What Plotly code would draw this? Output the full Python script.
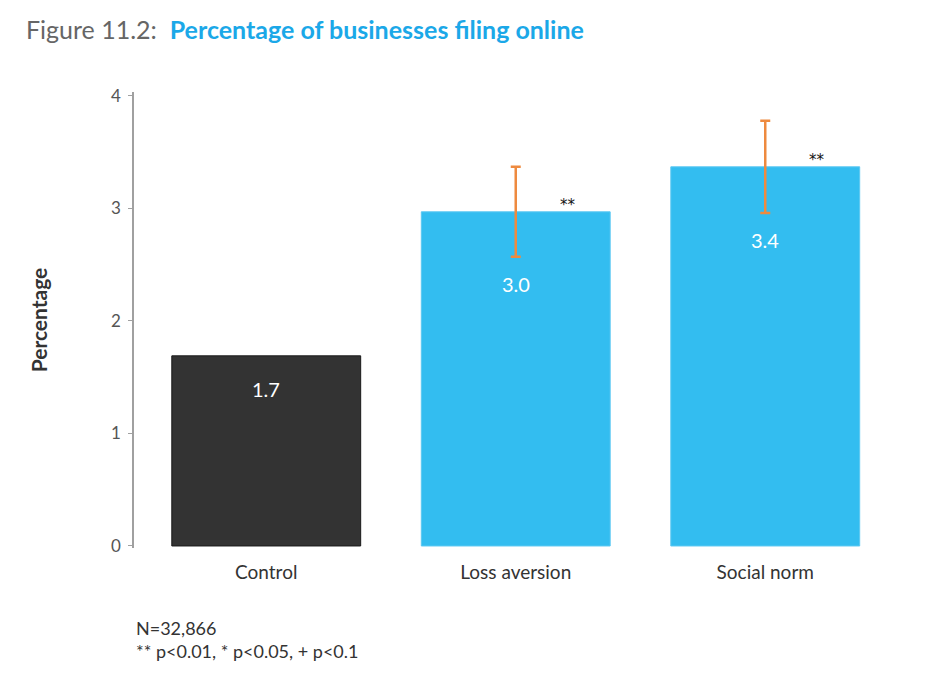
import plotly.graph_objects as go

categories = ["Control", "Loss aversion", "Social norm"]
values = [1.69, 2.97, 3.37]
labels = ["1.7", "3.0", "3.4"]
errors = [None, 0.40, 0.41]
significance = ["", "**", "**"]
bar_colors = ["#333333", "#33bdf0", "#33bdf0"]
bar_lines = ["#1a1a1a", "#5cc8f2", "#5cc8f2"]
y_ticks = [0, 1, 2, 3, 4]

FONT = "Lato, 'Open Sans', sans-serif"

fig = go.Figure()
fig.add_trace(go.Bar(
    x=categories, y=values,
    marker=dict(color=bar_colors, line=dict(color=bar_lines, width=1)),
    width=0.757,
    hoverinfo="skip",
))

err_x = [c for c, e in zip(categories, errors) if e is not None]
err_y = [v for v, e in zip(values, errors) if e is not None]
err_v = [e for e in errors if e is not None]
fig.add_trace(go.Scatter(
    x=err_x, y=err_y, mode="markers",
    marker=dict(size=1, opacity=0),
    error_y=dict(type="data", array=err_v, color="#ee8a3f", thickness=2.5, width=5),
    hoverinfo="skip",
))

annotations = []
for i, (c, v, lab, e, s) in enumerate(zip(categories, values, labels, errors, significance)):
    if e is None:
        ay, ys = v, -33
    else:
        ay, ys = v - e, -27
    annotations.append(dict(x=c, y=ay, text=lab, showarrow=False, yanchor="middle",
                            yshift=ys, font=dict(family=FONT, size=20, color="white")))
    if s:
        annotations.append(dict(x=c, y=v, text=s, showarrow=False, yanchor="bottom",
                                xshift=52, yshift=-4, font=dict(family="DejaVu Sans", size=15, color="#111")))

annotations.append(dict(xref="paper", yref="paper", x=-0.146, y=1.0, yshift=63,
                        xanchor="left", yanchor="middle", showarrow=False,
                        text="<span style='color:#666666'>Figure 11.2:</span>  "
                             "<span style='color:#1ba8e8'><b>Percentage of businesses filing online</b></span>",
                        font=dict(family=FONT, size=25)))
annotations.append(dict(xref="paper", yref="paper", x=0.0, y=0, yshift=-67,
                        xanchor="left", yanchor="top", showarrow=False, align="left",
                        text="N=32,866<br>** p<0.01, * p<0.05, + p<0.1",
                        font=dict(family=FONT, size=18, color="#333333")))

fig.update_layout(
    width=936, height=685,
    margin=dict(l=126, r=54, t=84, b=145),
    paper_bgcolor="white", plot_bgcolor="white",
    showlegend=False,
    font=dict(family=FONT),
    annotations=annotations,
    xaxis=dict(range=[-0.53, 2.5], showgrid=False, showline=False, ticks="",
               tickfont=dict(family=FONT, size=19, color="#333333"), ticklabelstandoff=11),
    yaxis=dict(range=[-0.018, 4.035], showgrid=False, zeroline=False, showline=True,
               linecolor="#a0a0a0", linewidth=1.5, ticks="outside", ticklen=4,
               tickcolor="#a0a0a0", tickvals=y_ticks, ticklabelstandoff=4,
               tickfont=dict(family=FONT, size=17, color="#555555"),
               title=dict(text="<b>Percentage</b>", standoff=58,
                          font=dict(family=FONT, size=21, color="#333333"))),
)

fig.write_html("out.html")
